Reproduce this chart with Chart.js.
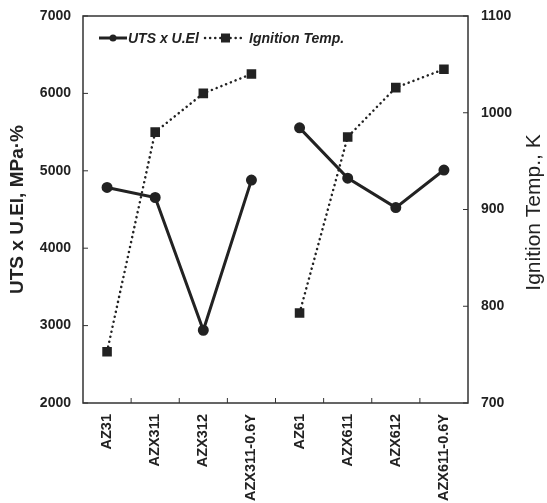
<!DOCTYPE html>
<html>
<head>
<meta charset="utf-8">
<script src="https://cdn.jsdelivr.net/npm/chart.js@4"></script>
<style>
  html, body { margin: 0; padding: 0; background: #fff; }
  #wrap { width: 547px; height: 503px; }
</style>
</head>
<body>
<div id="wrap"><canvas id="chart" width="547" height="503"></canvas></div>
<script>
// data
const alloys = ['AZ31', 'AZX311', 'AZX312', 'AZX311-0.6Y', 'AZ61', 'AZX611', 'AZX612', 'AZX611-0.6Y'];
const utsxEl = [4785, 4655, 2940, 4880, 5555, 4905, 4525, 5010];
const ignitionTemp = [753, 980, 1020, 1040, 793, 975, 1026, 1045];
const leftTicks = [2000, 3000, 4000, 5000, 6000, 7000];
const rightTicks = [700, 800, 900, 1000, 1100];

const ink = '#222';
const fontFam = '"Liberation Sans", Arial, sans-serif';

// no line between the two alloy groups
const breakAt = 3;
const gapSeg = {
  borderColor: c => c.p0DataIndex === breakAt ? 'rgba(0,0,0,0)' : undefined
};

// frame, inward ticks, right title and legend
const framePlugin = {
  id: 'frame',
  afterDraw(chart) {
    const { ctx, chartArea: a, scales } = chart;
    ctx.save();
    ctx.strokeStyle = '#333';
    ctx.lineWidth = 1.5;
    ctx.strokeRect(a.left, a.top, a.right - a.left, a.bottom - a.top);
    ctx.lineWidth = 1;
    ctx.beginPath();
    leftTicks.forEach(v => {
      const y = scales.y.getPixelForValue(v);
      ctx.moveTo(a.left, y); ctx.lineTo(a.left + 5, y);
    });
    rightTicks.forEach(v => {
      const y = scales.y2.getPixelForValue(v);
      ctx.moveTo(a.right, y); ctx.lineTo(a.right - 5, y);
    });
    for (let i = 1; i < alloys.length; i++) {
      const x = (scales.x.getPixelForValue(i - 1) + scales.x.getPixelForValue(i)) / 2;
      ctx.moveTo(x, a.bottom); ctx.lineTo(x, a.bottom - 5);
    }
    ctx.stroke();

    // right axis title, reading upward like the left one
    ctx.fillStyle = ink;
    ctx.save();
    ctx.translate(chart.width - 13, (a.top + a.bottom) / 2 + 3);
    ctx.rotate(-Math.PI / 2);
    ctx.font = '21px ' + fontFam;
    ctx.textAlign = 'center';
    ctx.textBaseline = 'middle';
    ctx.fillText('Ignition Temp., K', 0, 0);
    ctx.restore();

    // legend
    const ly = a.top + 22;
    let x = a.left + 16;
    ctx.strokeStyle = ink;
    ctx.lineWidth = 3;
    ctx.setLineDash([]);
    ctx.beginPath(); ctx.moveTo(x, ly); ctx.lineTo(x + 28, ly); ctx.stroke();
    ctx.beginPath(); ctx.arc(x + 14, ly, 3.5, 0, Math.PI * 2); ctx.fill();
    ctx.font = 'italic bold 14px ' + fontFam;
    ctx.textBaseline = 'middle';
    ctx.fillText('UTS x U.El', x + 29, ly + 1);
    x = a.left + 122;
    ctx.lineWidth = 2.5;
    ctx.lineCap = 'round';
    ctx.setLineDash([0.1, 5]);
    ctx.beginPath(); ctx.moveTo(x, ly); ctx.lineTo(x + 40, ly); ctx.stroke();
    ctx.setLineDash([]);
    ctx.fillRect(x + 16, ly - 4.5, 9, 9);
    ctx.fillText('Ignition Temp.', x + 44, ly + 1);
    ctx.restore();
  }
};

new Chart(document.getElementById('chart'), {
  type: 'line',
  data: {
    labels: alloys,
    datasets: [
      {
        label: 'UTS x U.El',
        data: utsxEl,
        yAxisID: 'y',
        borderColor: ink,
        backgroundColor: ink,
        borderWidth: 3,
        pointStyle: 'circle',
        pointRadius: 4,
        tension: 0,
        segment: gapSeg
      },
      {
        label: 'Ignition Temp.',
        data: ignitionTemp,
        yAxisID: 'y2',
        borderColor: ink,
        backgroundColor: ink,
        borderWidth: 2.5,
        borderDash: [0.1, 5],
        borderCapStyle: 'round',
        pointStyle: 'rect',
        pointRadius: 5,
        tension: 0,
        segment: gapSeg
      }
    ]
  },
  options: {
    responsive: false,
    animation: false,
    layout: { padding: { top: 16 } },
    plugins: {
      legend: { display: false },
      tooltip: { enabled: false }
    },
    scales: {
      x: {
        offset: true,
        grid: { display: false },
        border: { display: false },
        ticks: {
          color: ink,
          minRotation: 90,
          maxRotation: 90,
          padding: 3,
          font: { family: fontFam, size: 14.5, weight: 'bold' }
        },
        afterFit(s) { s.height = 100; }
      },
      y: {
        position: 'left',
        min: 2000,
        max: 7000,
        grid: { display: false },
        border: { display: false },
        ticks: {
          stepSize: 1000,
          color: ink,
          padding: 4,
          callback: v => String(v),
          font: { family: fontFam, size: 14, weight: 'bold' }
        },
        title: {
          display: true,
          text: 'UTS x U.El, MPa·%',
          color: ink,
          padding: { top: 6, bottom: 2 },
          font: { family: fontFam, size: 19, weight: 'bold' }
        },
        afterFit(s) { s.width = 83; }
      },
      y2: {
        position: 'right',
        min: 700,
        max: 1100,
        grid: { display: false },
        border: { display: false },
        ticks: {
          stepSize: 100,
          color: ink,
          padding: 5,
          callback: v => String(v),
          font: { family: fontFam, size: 14, weight: 'bold' }
        },
        afterFit(s) { s.width = 79; }
      }
    }
  },
  plugins: [framePlugin]
});
</script>
</body>
</html>
